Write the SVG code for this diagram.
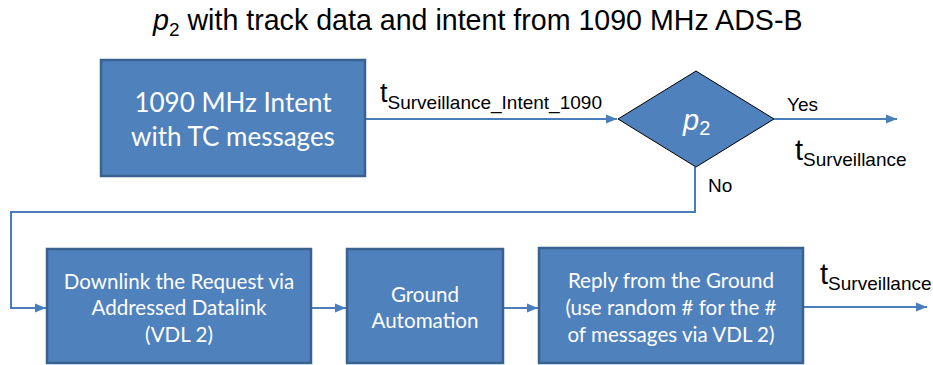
<svg xmlns="http://www.w3.org/2000/svg" width="933" height="365" viewBox="0 0 933 365">
<defs>
<style>
.box{fill:#4F81BD;stroke:#3A6291;stroke-width:2.5}
.dia{fill:#4F81BD;stroke:#000;stroke-width:1}
.bt{font-family:Lato,"Open Sans",sans-serif;fill:#fff;text-anchor:middle}
.lbl{font-family:"Liberation Sans",Arial,sans-serif;fill:#000}
.ln{fill:none;stroke:#4A7EBB;stroke-width:2}
</style>
<marker id="ah" markerWidth="11" markerHeight="10" viewBox="0 0 11 10" refX="11" refY="5" orient="auto" markerUnits="userSpaceOnUse">
<path d="M0,0.5 L11,5 L0,9.5 Z" fill="#4A7EBB"/>
</marker>
</defs>
<rect width="933" height="365" fill="#fff"/>
<text class="lbl" x="153" y="30" font-size="28.6"><tspan font-style="italic">p</tspan><tspan font-size="19" dy="6">2</tspan><tspan dy="-6"> with track data and intent from 1090 MHz ADS-B</tspan></text>

<g id="connectors">
<path class="ln" d="M365,119 L617,119" marker-end="url(#ah)"/>
<path class="ln" d="M774,119 L897,119" marker-end="url(#ah)"/>
<path class="ln" d="M695,167 L695,212 L11,212 L11,308 L46,308" marker-end="url(#ah)"/>
<path class="ln" d="M311,308 L346,308" marker-end="url(#ah)"/>
<path class="ln" d="M503,308 L538,308" marker-end="url(#ah)"/>
<path class="ln" d="M803,307 L927,307" marker-end="url(#ah)"/>
<text class="lbl" x="380" y="102" font-size="27">t<tspan font-size="19" dy="7">Surveillance_Intent_1090</tspan></text>
<text class="lbl" x="787" y="111" font-size="19">Yes</text>
<text class="lbl" x="795" y="160" font-size="29">t<tspan font-size="19" dy="6">Surveillance</tspan></text>
<text class="lbl" x="708" y="192" font-size="19">No</text>
<text class="lbl" x="820" y="284" font-size="29">t<tspan font-size="19" dy="6">Surveillance</tspan></text>
</g>

<g id="intent1090">
<rect class="box" x="101" y="60" width="264" height="116"/>
<text class="bt" x="233" y="112" font-size="26">1090 MHz Intent</text>
<text class="bt" x="233" y="146" font-size="26">with TC messages</text>
</g>

<g id="p2">
<polygon class="dia" points="618,119 696,71 774,119 696,167"/>
<text class="lbl" x="683" y="130" font-size="29" style="fill:#fff"><tspan font-style="italic">p</tspan><tspan font-size="20" dy="5">2</tspan></text>
</g>

<g id="downlink">
<rect class="box" x="47" y="249" width="264" height="114"/>
<text class="bt" x="179" y="289" font-size="20.6">Downlink the Request via</text>
<text class="bt" x="179" y="315" font-size="20.6">Addressed Datalink</text>
<text class="bt" x="179" y="342" font-size="20.6">(VDL 2)</text>
</g>

<g id="ground">
<rect class="box" x="347" y="249" width="156" height="114"/>
<text class="bt" x="425" y="302" font-size="20.6">Ground</text>
<text class="bt" x="425" y="328" font-size="20.6">Automation</text>
</g>

<g id="reply">
<rect class="box" x="539" y="248" width="264" height="115"/>
<text class="bt" x="671" y="288" font-size="20.6">Reply from the Ground</text>
<text class="bt" x="671" y="315" font-size="20.6">(use random # for the #</text>
<text class="bt" x="671" y="342" font-size="20.6">of messages via VDL 2)</text>
</g>
</svg>
